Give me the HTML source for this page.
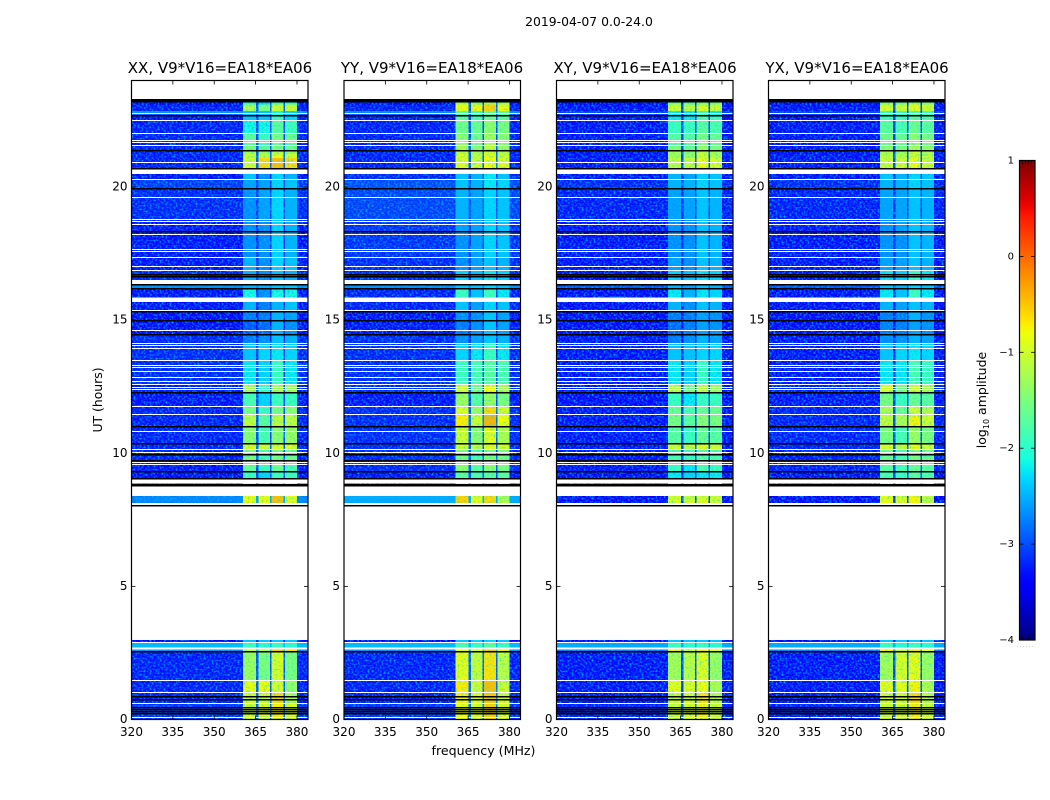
<!DOCTYPE html>
<html>
<head>
<meta charset="utf-8">
<title>2019-04-07 0.0-24.0</title>
<style>
html,body{margin:0;padding:0;background:#fff;}
svg{display:block;}
text{font-family:"DejaVu Sans","Liberation Sans",sans-serif;fill:#000;}
</style>
</head>
<body>
<svg id="fig" xmlns="http://www.w3.org/2000/svg" width="1050" height="800" viewBox="0 0 1050 800">
  <defs>
    <filter id="speckle" filterUnits="userSpaceOnUse" x="120" y="80" width="840" height="650" color-interpolation-filters="sRGB">
      <feTurbulence type="fractalNoise" baseFrequency="0.5 0.55" numOctaves="1" seed="7" result="n"/>
      <feColorMatrix in="n" type="matrix" values="0 0 0 0 0  0 0 0 0 0.72  0 0 0 0 1  2.5 0 0 0 -1.1" result="c"/>
      <feComposite in="c" in2="SourceGraphic" operator="atop"/>
    </filter>
    <filter id="speckle-soft" filterUnits="userSpaceOnUse" x="120" y="80" width="840" height="650" color-interpolation-filters="sRGB">
      <feTurbulence type="fractalNoise" baseFrequency="0.5 0.55" numOctaves="1" seed="11" result="n"/>
      <feColorMatrix in="n" type="matrix" values="0 0 0 0 0.1  0 0 0 0 0.85  0 0 0 0 0.8  2 0 0 0 -1.0" result="c"/>
      <feComposite in="c" in2="SourceGraphic" operator="atop"/>
    </filter>
    <linearGradient id="cbar-gradient" x1="0" y1="1" x2="0" y2="0"></linearGradient>
  </defs>
  <rect width="1050" height="800" fill="#fff"/>
  <text x="589" y="26" text-anchor="middle" font-size="12.4">2019-04-07 0.0-24.0</text>

  <g id="panel-0">
    <text x="220" y="73" text-anchor="middle" font-size="15">XX, V9*V16=EA18*EA06</text>
  </g>
  <g id="panel-1">
    <text x="432" y="73" text-anchor="middle" font-size="15">YY, V9*V16=EA18*EA06</text>
  </g>
  <g id="panel-2">
    <text x="645" y="73" text-anchor="middle" font-size="15">XY, V9*V16=EA18*EA06</text>
  </g>
  <g id="panel-3">
    <text x="857" y="73" text-anchor="middle" font-size="15">YX, V9*V16=EA18*EA06</text>
  </g>

  <text transform="translate(102 400) rotate(-90)" text-anchor="middle" font-size="12.4">UT (hours)</text>
  <text x="483.5" y="755" text-anchor="middle" font-size="12.6">frequency (MHz)</text>

  <g id="cbar"></g>
  <text transform="translate(986 400) rotate(-90)" text-anchor="middle" font-size="12.5">log<tspan font-size="8" dy="3">10</tspan><tspan dy="-3"> amplitude</tspan></text>
</svg>

<script>
// ---- axis data ----
const freqTicks = [320, 335, 350, 365, 380];
const utTicks = [0, 5, 10, 15, 20];
const cbarTicks = [1, 0, -1, -2, -3, -4];
const cbarTickLabels = ['1', '0', '\u22121', '\u22122', '\u22123', '\u22124'];

// frequency segments (MHz) and which value column each one reads
const freqEdges = [320, 360.5, 365.2, 366, 370.2, 370.8, 375.1, 375.7, 380, 384];
const freqColumn = [0, 1, 5, 2, 5, 3, 5, 4, 0];

// UT blocks with data (hours)
const utStart = [0, .60, 1.03, 1.48, 2.52, 2.70, 2.89, 8.11, 8.83, 9.06, 9.33, 9.75, 10.16, 10.38, 11.02, 11.44, 11.77, 12.30, 12.56, 13.50, 14.14, 14.42, 15.00, 15.38, 15.85, 16.17, 16.50, 16.88, 17.33, 18.30, 18.80, 19.94, 20.30, 20.68, 21.08, 21.24, 21.35, 21.54, 21.76, 22.01, 22.50, 22.72, 22.85, 23.10];
const utEnd   = [.60, 1.03, 1.48, 2.52, 2.63, 2.89, 2.99, 8.39, 8.87, 9.33, 9.75, 10.16, 10.38, 11.02, 11.44, 11.77, 12.30, 12.56, 13.50, 14.14, 14.42, 15.00, 15.38, 15.68, 16.17, 16.35, 16.88, 17.33, 18.30, 18.80, 19.94, 20.30, 20.49, 21.08, 21.24, 21.35, 21.54, 21.76, 22.01, 22.50, 22.72, 22.85, 23.10, 23.29];

// log10 amplitude per UT block, columns: background, band A, band B, band C, band D, gaps
const xxValues = [
[-3.2,-1.0,-.9,-.7,-.9,-2.95],[-3.3,-1,-1,-.6,-1.2,-2.95],[-3.3,-.85,-.85,-.95,-1.35,-2.95],[-3.3,-1.3,-1.5,-.95,-1.5,-3.0],
[-2.7,-1.1,-1.2,-.5,-.6,-2.4],[-2.45,-1.9,-2,-1.9,-2,-2.45],[-3.45,-2.4,-2.4,-2.4,-2.4,-3.2],
[-2.75,-.8,-.8,-.45,-.9,-2.6],[-3.3,-.9,-.9,-.6,-1,-2.95],
[-3.45,-1.9,-2.3,-1.9,-1.9,-3.05],[-3.35,-1.6,-1.9,-1.6,-1.8,-3.05],[-3.3,-1.5,-1.8,-1.5,-1.6,-2.95],[-3.3,-.9,-1,-.9,-.9,-2.95],
[-3.3,-1.4,-1.8,-1.4,-1.3,-3.05],[-3.3,-1.1,-1.7,-1.1,-1.1,-3.05],[-3.3,-1.5,-1.9,-1.5,-1.4,-3.05],[-3.35,-1.8,-2.3,-1.9,-1.9,-3.05],
[-3.3,-1.2,-1.9,-1.2,-1.3,-2.95],[-3.25,-2.2,-2.3,-1.9,-2.2,-3.1],[-3.25,-2.4,-2.3,-2.2,-2.3,-3.1],[-3.25,-2.8,-2.7,-2.4,-2.5,-3.2],
[-3.4,-3,-2.9,-2.5,-2.7,-3.3],[-3.45,-2.8,-2.8,-2.5,-2.6,-3.3],[-3.35,-2.5,-2.8,-2.5,-2.4,-3.2],[-3.35,-2.1,-2.7,-2.1,-2.1,-3.1],
[-2.7,-2.5,-2.5,-2.4,-2.4,-2.7],[-3.25,-2.5,-2.7,-2.4,-2.5,-3.1],[-3.35,-2.5,-2.7,-2.3,-2.4,-3.2],[-3.35,-2.7,-2.7,-2.3,-2.5,-3.2],
[-3.35,-2.7,-2.7,-2.3,-2.5,-3.2],[-3.25,-2.7,-2.6,-2.3,-2.5,-3.1],[-3.15,-2.6,-2.6,-2.3,-2.4,-3.1],[-3.35,-2.4,-2.7,-2.3,-2.5,-3.2],
[-3.3,-1.0,-.6,-.45,-.6,-2.95],[-3.3,-1.1,-1.1,-.9,-1,-2.95],[-3.3,-1.3,-1.4,-1.2,-1.3,-2.95],[-3.3,-1.5,-1.7,-1.5,-1.6,-3.05],
[-3.3,-1.7,-1.9,-1.6,-1.7,-3.05],[-3.3,-1.7,-1.9,-1.5,-1.6,-3.05],[-3.3,-2.1,-2.1,-1.7,-1.9,-3.05],[-3.35,-2.4,-2.4,-1.9,-2.3,-3.1],
[-2.65,-2.4,-2.4,-2.1,-2.3,-2.65],[-3.3,-1.2,-1.5,-1.0,-1.0,-2.95],[-3.45,-2,-2.3,-1.9,-2,-3.1]
];
const yyValues = [
[-3.2,-.8,-.9,-.55,-.9,-2.85],[-3.3,-.75,-.9,-.5,-.95,-2.85],[-3.3,-.7,-.95,-.45,-1.0,-2.85],[-3.3,-.85,-1.05,-.65,-1.1,-2.95],
[-2.7,-.8,-.9,-.5,-.7,-2.4],[-2.45,-1.8,-1.9,-1.7,-1.9,-2.45],[-3.45,-2.4,-2.3,-2.3,-2.4,-3.2],
[-2.55,-.55,-.85,-.6,-1.2,-2.5],[-3.3,-.8,-.9,-.5,-1,-2.95],
[-3.35,-1.7,-1.8,-1.7,-1.7,-3.05],[-3.25,-1.4,-1.7,-1.4,-1.5,-2.95],[-3.25,-1.5,-1.8,-1.5,-1.5,-2.95],[-3.25,-1,-1.1,-.8,-1,-2.95],
[-3.25,-1,-1.4,-.9,-1.2,-2.95],[-3.25,-.7,-1,-.4,-.8,-2.85],[-3.25,-.9,-1.3,-.6,-1,-2.95],[-3.35,-1.3,-1.7,-1.3,-1.5,-3.05],
[-3.25,-1,-1.5,-.8,-1.2,-2.95],[-3.25,-1.9,-1.8,-1.7,-1.8,-3.1],[-3.25,-2.3,-2.2,-1.9,-2.2,-3.1],[-3.25,-2.7,-2.6,-2.4,-2.5,-3.2],
[-3.35,-2.8,-2.7,-2.4,-2.6,-3.3],[-3.4,-2.7,-2.7,-2.4,-2.6,-3.3],[-3.3,-2.4,-2.6,-2.3,-2.4,-3.2],[-3.3,-1.9,-2.4,-1.9,-2.2,-3.1],
[-2.7,-2.4,-2.4,-2.3,-2.4,-2.7],[-3.25,-2.3,-2.4,-2.2,-2.3,-3.1],[-3.25,-2.7,-2.6,-2.4,-2.5,-3.1],[-3.2,-2.7,-2.6,-2.3,-2.4,-3.1],
[-3.2,-2.6,-2.6,-2.3,-2.4,-3.1],[-3.1,-2.5,-2.6,-2.3,-2.4,-3],[-3.05,-2.4,-2.5,-2.2,-2.3,-3],[-3.25,-2.4,-2.5,-2.2,-2.4,-3.1],
[-3.3,-.9,-1,-.8,-.9,-2.95],[-3.3,-.95,-1.1,-.85,-1,-2.95],[-3.3,-1.1,-1.2,-1,-1.1,-2.95],[-3.3,-1.25,-1.4,-1.1,-1.3,-2.95],
[-3.3,-1.35,-1.5,-1.2,-1.4,-3.05],[-3.3,-1.4,-1.55,-1.25,-1.4,-3.05],[-3.3,-1.55,-1.6,-1.4,-1.5,-3.05],[-3.35,-1.7,-1.8,-1.6,-1.7,-3.1],
[-2.7,-1.7,-1.8,-1.6,-1.7,-2.7],[-3.3,-.8,-.75,-.55,-.8,-2.95],[-3.45,-1.3,-1.4,-1.2,-1.3,-3.1]
];
const xyValues = [
[-3.3,-1,-.95,-.75,-1,-2.95],[-3.35,-1,-1,-.65,-1.1,-3.05],[-3.35,-.85,-.9,-.8,-1.2,-3.05],[-3.35,-1.25,-1.1,-.9,-1.3,-3.05],
[-2.8,-.7,-1.1,-.7,-.8,-2.5],[-2.55,-1.9,-2,-1.9,-2,-2.5],[-3.45,-2.4,-2.4,-2.4,-2.4,-3.2],
[-3.45,-.95,-1,-.9,-1,-3.1],[-3.35,-.9,-1,-.8,-1,-3.05],
[-3.45,-2.2,-2.3,-2.2,-2.2,-3.1],[-3.35,-1.9,-2.2,-1.8,-1.9,-3.1],[-3.35,-1.8,-1.9,-1.7,-1.8,-3.1],[-3.35,-1.0,-1.1,-.9,-1,-3.05],
[-3.35,-1.7,-1.9,-1.6,-1.7,-3.1],[-3.35,-1.5,-1.7,-1.4,-1.5,-3.05],[-3.35,-1.6,-1.8,-1.6,-1.6,-3.1],[-3.4,-1.9,-2.2,-1.9,-1.9,-3.1],
[-3.35,-1.1,-1.5,-1.1,-1.3,-3.05],[-3.35,-2.2,-2.3,-1.9,-2.2,-3.2],[-3.35,-2.4,-2.4,-2.3,-2.3,-3.2],[-3.35,-2.8,-2.7,-2.5,-2.6,-3.3],
[-3.45,-2.9,-2.8,-2.6,-2.7,-3.35],[-3.45,-2.8,-2.8,-2.6,-2.7,-3.3],[-3.4,-2.5,-2.7,-2.4,-2.5,-3.3],[-3.4,-2.2,-2.5,-2.2,-2.3,-3.2],
[-3.0,-2.5,-2.6,-2.4,-2.5,-2.9],[-3.35,-2.3,-2.4,-2.2,-2.3,-3.2],[-3.35,-2.6,-2.7,-2.4,-2.5,-3.2],[-3.35,-2.7,-2.7,-2.4,-2.5,-3.2],
[-3.35,-2.7,-2.7,-2.4,-2.5,-3.2],[-3.3,-2.6,-2.6,-2.4,-2.5,-3.2],[-3.25,-2.5,-2.5,-2.3,-2.4,-3.1],[-3.35,-2.5,-2.6,-2.3,-2.4,-3.2],
[-3.35,-1.1,-1.1,-.85,-1.0,-3.05],[-3.35,-1.25,-1.3,-1,-1.2,-3.05],[-3.35,-1.3,-1.35,-1.1,-1.3,-3.05],[-3.35,-1.5,-1.6,-1.3,-1.5,-3.1],
[-3.35,-1.7,-1.7,-1.5,-1.6,-3.1],[-3.35,-1.7,-1.7,-1.5,-1.6,-3.1],[-3.35,-1.9,-1.9,-1.7,-1.8,-3.1],[-3.4,-2.2,-2.2,-1.8,-1.9,-3.2],
[-3.1,-2.2,-2.2,-1.9,-2.2,-3.1],[-3.35,-1.0,-1.1,-.9,-1,-3.05],[-3.45,-1.6,-1.7,-1.5,-1.6,-3.2]
];
const yxValues = [
[-3.3,-1,-.95,-.7,-1,-2.95],[-3.35,-1,-.95,-.6,-1.1,-3.05],[-3.35,-.85,-.85,-.75,-1.2,-3.05],[-3.35,-1.25,-.95,-.85,-1.3,-3.05],
[-2.8,-.7,-1,-.65,-.8,-2.5],[-2.55,-1.9,-2,-1.9,-2,-2.5],[-3.45,-2.4,-2.4,-2.4,-2.4,-3.2],
[-3.4,-.85,-.9,-.75,-1.1,-3.1],[-3.35,-.8,-.9,-.7,-.9,-3.05],
[-3.4,-1.8,-1.9,-1.7,-1.8,-3.1],[-3.3,-1.7,-1.8,-1.6,-1.7,-3.05],[-3.3,-1.6,-1.8,-1.5,-1.6,-3.05],[-3.3,-.95,-1.1,-.85,-1,-3.05],
[-3.3,-1.5,-1.8,-1.3,-1.5,-3.05],[-3.3,-1.05,-1.2,-.75,-1,-3.05],[-3.3,-1.2,-1.6,-1,-1.15,-3.05],[-3.35,-1.5,-1.9,-1.6,-1.7,-3.1],
[-3.3,-1,-1.5,-1,-1.2,-3.05],[-3.35,-2.2,-2.2,-1.8,-1.9,-3.2],[-3.35,-2.4,-2.3,-2.2,-2.3,-3.2],[-3.35,-2.7,-2.7,-2.5,-2.6,-3.3],
[-3.45,-2.8,-2.8,-2.6,-2.7,-3.35],[-3.45,-2.8,-2.8,-2.5,-2.7,-3.3],[-3.4,-2.5,-2.6,-2.4,-2.5,-3.3],[-3.4,-2.2,-2.4,-1.9,-2.2,-3.2],
[-3.0,-2.4,-2.5,-2.3,-2.4,-2.9],[-3.35,-2.2,-2.3,-1.9,-2.2,-3.2],[-3.35,-2.6,-2.6,-2.4,-2.5,-3.2],[-3.35,-2.7,-2.7,-2.4,-2.5,-3.2],
[-3.35,-2.7,-2.6,-2.4,-2.5,-3.2],[-3.3,-2.6,-2.6,-2.4,-2.5,-3.2],[-3.25,-2.5,-2.5,-2.3,-2.4,-3.1],[-3.35,-2.4,-2.5,-2.3,-2.4,-3.2],
[-3.35,-1.0,-1.0,-.85,-1.0,-3.05],[-3.35,-1.15,-1.2,-1,-1.1,-3.05],[-3.35,-1.2,-1.3,-1.05,-1.2,-3.05],[-3.35,-1.4,-1.5,-1.2,-1.4,-3.1],
[-3.35,-1.55,-1.6,-1.4,-1.5,-3.1],[-3.35,-1.55,-1.6,-1.4,-1.5,-3.1],[-3.35,-1.7,-1.8,-1.6,-1.7,-3.1],[-3.4,-1.9,-1.9,-1.7,-1.8,-3.2],
[-3.1,-1.9,-1.9,-1.8,-1.9,-3.1],[-3.35,-.95,-1.0,-.85,-1,-3.05],[-3.45,-1.5,-1.6,-1.4,-1.5,-3.2]
];
const panelValues = [xxValues, yyValues, xyValues, yxValues];
const panelKeys = ['xx', 'yy', 'xy', 'yx'];

// integrations with no data (white) and flagged integrations (black), UT hours
const blankTimes = [.09, .60, 1.02, 1.47, 2.89, 8.12, 9.56, 9.65, 10.02, 10.15, 10.82, 11.47, 11.75, 12.40, 12.48, 12.57, 12.69, 12.85, 13.08, 13.21, 13.31, 13.48, 13.95, 14.03, 14.13, 14.60, 15.36, 16.88, 17.01, 17.34, 17.57, 17.66, 18.20, 18.58, 18.69, 18.77, 19.61, 20.30, 20.92, 21.56, 21.67, 21.75, 22.01, 22.50, 22.76];
const flaggedTimes = [.23, .29, .36, .46, .76, .87, 2.54, 8.05, 8.80, 8.82, 9.06, 9.31, 9.74, 9.97, 10.37, 11.01, 12.30, 14.46, 14.98, 15.32, 16.19, 16.32, 16.62, 16.73, 18.31, 19.93, 20.71, 21.37, 22.70, 23.21, 23.24, 23.27];
</script>
<script>
const NS = 'http://www.w3.org/2000/svg';
const panelLeft = [131.5, 344, 556.5, 768.5];
const panelWidth = 176.5;
const yBottom = 719.5;
const yTop = 80.5;
const xScale = (i, f) => panelLeft[i] + (f - 320) / 64 * panelWidth;
const yScale = ut => yBottom - ut / 24 * (yBottom - yTop);

function interp(t, xs, ys) {
  if (t <= xs[0]) return ys[0];
  for (let k = 1; k < xs.length; k++) {
    if (t <= xs[k]) return ys[k - 1] + (ys[k] - ys[k - 1]) * (t - xs[k - 1]) / (xs[k] - xs[k - 1]);
  }
  return ys[ys.length - 1];
}
function jet(v) {
  const t = Math.max(0, Math.min(1, (v + 4) / 5));
  const r = interp(t, [0, .35, .66, .89, 1], [0, 0, 1, 1, .5]);
  const g = interp(t, [0, .125, .375, .64, .91, 1], [0, 0, 1, 1, 0, 0]);
  const b = interp(t, [0, .11, .34, .65, 1], [.5, 1, 1, 0, 0]);
  return 'rgb(' + Math.round(r * 255) + ',' + Math.round(g * 255) + ',' + Math.round(b * 255) + ')';
}
function mk(tag, attrs, parent) {
  const e = document.createElementNS(NS, tag);
  for (const k in attrs) e.setAttribute(k, attrs[k]);
  parent.appendChild(e);
  return e;
}

panelKeys.forEach((key, p) => {
  const root = document.getElementById('panel-' + p);
  const L = panelLeft[p], R = L + panelWidth;

  const heat = mk('g', {filter: 'url(#speckle)', 'shape-rendering': 'crispEdges'}, root);
  
  
  const heatBright = mk('g', {filter: 'url(#speckle-soft)', 'shape-rendering': 'crispEdges'}, root);
  
  
  panelValues[p].forEach((row, r) => {
    freqColumn.forEach((col, c) => {
      const x0 = xScale(p, freqEdges[c]), x1 = xScale(p, freqEdges[c + 1]);
      const y0 = yScale(utEnd[r]), y1 = yScale(utStart[r]);
      const target = row[col] < -2 ? heat : heatBright;
      const cell = mk('rect', {x: x0, y: y0, width: x1 - x0, height: y1 - y0, fill: jet(row[col])}, target);
      
      
    });
  });

  blankTimes.forEach(ut => {
    const line = mk('rect', {x: L, y: Math.round(yScale(ut) - .5), width: panelWidth, height: 1, fill: '#fff', 'shape-rendering': 'crispEdges'}, root);
    
    
  });
  flaggedTimes.forEach(ut => {
    const line = mk('rect', {x: L, y: Math.round(yScale(ut) - .5), width: panelWidth, height: 1.5, fill: '#000', 'shape-rendering': 'crispEdges'}, root);
    
    
  });

  freqTicks.forEach(f => {
    const x = xScale(p, f);
    if (f !== 320) {
      const t1 = mk('line', {x1: x, x2: x, y1: yBottom, y2: yBottom - 4, stroke: '#000', 'stroke-width': .8}, root);
      
      
      const t2 = mk('line', {x1: x, x2: x, y1: yTop, y2: yTop + 4, stroke: '#000', 'stroke-width': .8}, root);
      
      
    }
    const lab = mk('text', {x: x, y: 736, 'text-anchor': 'middle', 'font-size': 12}, root);
    lab.textContent = String(f);
    
    
  });
  utTicks.forEach(u => {
    const y = yScale(u);
    if (u !== 0) {
      const t1 = mk('line', {x1: L, x2: L + 4, y1: y, y2: y, stroke: '#000', 'stroke-width': .8}, root);
      
      
      const t2 = mk('line', {x1: R, x2: R - 4, y1: y, y2: y, stroke: '#000', 'stroke-width': .8}, root);
      
      
    }
    const lab = mk('text', {x: L - 4, y: y + 3.5, 'text-anchor': 'end', 'font-size': 12}, root);
    lab.textContent = String(u);
    
    
  });

  const frame = mk('rect', {x: L, y: yTop, width: panelWidth, height: yBottom - yTop, fill: 'none', stroke: '#000', 'stroke-width': 1.2}, root);
  
  
});

// colorbar
const cbarX = 1019.5, cbarW = 15.5, cbarTop = 160.5, cbarBottom = 640;
const cbarY = v => cbarBottom - (v + 4) / 5 * (cbarBottom - cbarTop);
const grad = document.getElementById('cbar-gradient');
for (let s = 0; s <= 50; s++) {
  mk('stop', {offset: s / 50, 'stop-color': jet(-4 + s / 10)}, grad);
}
const cb = document.getElementById('cbar');
const cbRect = mk('rect', {x: cbarX, y: cbarTop, width: cbarW, height: cbarBottom - cbarTop, fill: 'url(#cbar-gradient)', stroke: '#000', 'stroke-width': 1.2}, cb);


cbarTicks.forEach((v, i) => {
  const y = cbarY(v);
  if (i > 0 && i < cbarTicks.length - 1) {
    const a = mk('line', {x1: cbarX, x2: cbarX + 4, y1: y, y2: y, stroke: '#000', 'stroke-width': .8}, cb);
    
    
    const b = mk('line', {x1: cbarX + cbarW, x2: cbarX + cbarW - 4, y1: y, y2: y, stroke: '#000', 'stroke-width': .8}, cb);
    
    
  }
  const lab = mk('text', {x: 1014, y: y + 3, 'text-anchor': 'end', 'font-size': 10}, cb);
  lab.textContent = cbarTickLabels[i];
  
  
});
[3, 6, 9, 12].forEach(dx => {
  const a = mk('line', {x1: cbarX + dx, x2: cbarX + dx, y1: cbarTop, y2: cbarTop + 4, stroke: '#000', 'stroke-width': .7}, cb);
  
  
  const b = mk('line', {x1: cbarX + dx, x2: cbarX + dx, y1: cbarBottom, y2: cbarBottom - 4, stroke: '#000', 'stroke-width': .7}, cb);
  
  
});
const dots = mk('text', {x: 1017, y: 647, 'font-size': 5, fill: '#777', style: 'fill:#777;letter-spacing:1.4px'}, cb);
dots.textContent = '......';


</script>
</body>
</html>
